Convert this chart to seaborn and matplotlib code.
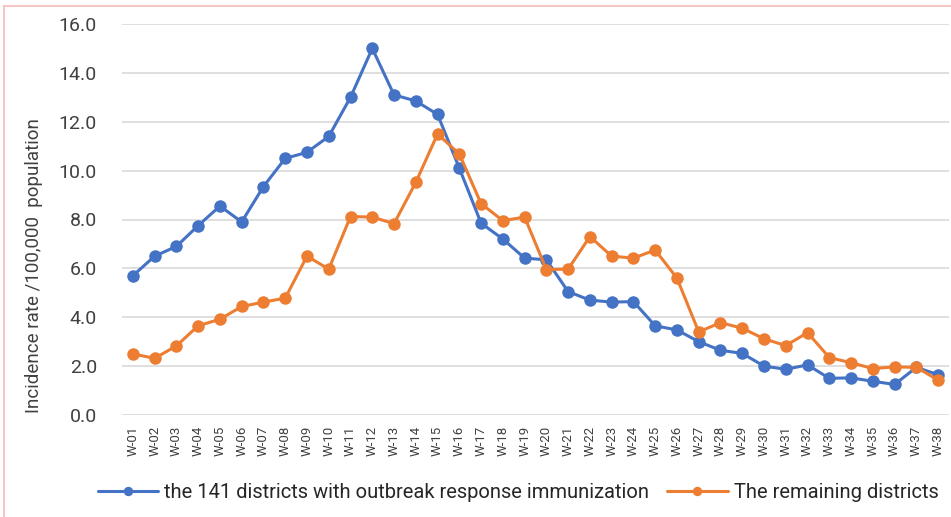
import matplotlib
matplotlib.use("Agg")
import matplotlib.pyplot as plt
import seaborn as sns
import pandas as pd
from matplotlib.patches import Rectangle

weeks = [f"W-{i:02d}" for i in range(1, 39)]
orv_districts = [5.7, 6.5, 6.9, 7.75, 8.55, 7.9, 9.35, 10.5, 10.75, 11.4,
                 13.0, 15.0, 13.1, 12.85, 12.3, 10.1, 7.85, 7.2, 6.42, 6.35,
                 5.05, 4.7, 4.62, 4.64, 3.65, 3.48, 3.0, 2.65, 2.52, 2.0,
                 1.87, 2.05, 1.5, 1.52, 1.38, 1.25, 1.95, 1.65]
remaining = [2.5, 2.32, 2.83, 3.65, 3.92, 4.44, 4.62, 4.78, 6.5, 5.97,
             8.12, 8.1, 7.83, 9.52, 11.5, 10.68, 8.65, 7.95, 8.1, 5.95,
             5.97, 7.3, 6.5, 6.42, 6.75, 5.6, 3.4, 3.78, 3.55, 3.12,
             2.84, 3.37, 2.35, 2.14, 1.9, 1.97, 1.95, 1.43]
series_names = ["the 141 districts with outbreak response immunization",
                "The remaining districts"]
yticks = [0, 2, 4, 6, 8, 10, 12, 14, 16]

df = pd.DataFrame({
    "week": weeks * 2,
    "rate": orv_districts + remaining,
    "group": [series_names[0]] * len(weeks) + [series_names[1]] * len(weeks),
})

sns.set_theme(style="white")
plt.rcParams["font.family"] = ["Roboto", "DejaVu Sans"]

fig = plt.figure(figsize=(9.51, 5.17), dpi=100)
ax = fig.add_axes([122 / 951, 102 / 517, 827 / 951, 391 / 517])

palette = {series_names[0]: "#4472C4", series_names[1]: "#ED7D31"}
sns.lineplot(data=df, x="week", y="rate", hue="group", palette=palette,
             marker="o", markersize=9, markeredgewidth=0, linewidth=2.2,
             sort=False, ax=ax, legend=True)

ax.set_xlim(-0.5, len(weeks) - 0.5)
ax.set_ylim(0, 16)
ax.set_yticks(yticks)
ax.set_yticklabels([f"{v:.1f}" for v in yticks], fontsize=14, color="#404040")
ax.set_xticks(range(len(weeks)))
ax.set_xticklabels(weeks, rotation=90, fontsize=9.5, color="#404040")
ax.tick_params(axis="x", length=0, pad=8)
ax.tick_params(axis="y", length=0, pad=18)
ax.set_xlabel("")
ax.set_ylabel("Incidence rate /100,000  population", fontsize=13.5,
              color="#404040")
ax.yaxis.set_label_coords(-0.095, 0.381)
ax.yaxis.grid(True, color="#D9D9D9", linewidth=1.2)
ax.set_axisbelow(True)
for s in ax.spines.values():
    s.set_visible(False)

h, l = ax.get_legend_handles_labels()
ax.legend(h, l, loc="center", bbox_to_anchor=(518 / 951, 24 / 517),
          bbox_transform=fig.transFigure, ncol=2, frameon=False,
          fontsize=14.5, handlelength=3.0, markerscale=0.75, columnspacing=0.9,
          handletextpad=0.3, labelcolor="#262626", borderaxespad=0)

fig.patches.append(Rectangle((4 / 951, -0.05), 1.1, (517 - 6) / 517 + 0.05,
                             transform=fig.transFigure, fill=False,
                             edgecolor="#F4C7C3", linewidth=1.5))

fig.savefig("out.png", dpi=100)
